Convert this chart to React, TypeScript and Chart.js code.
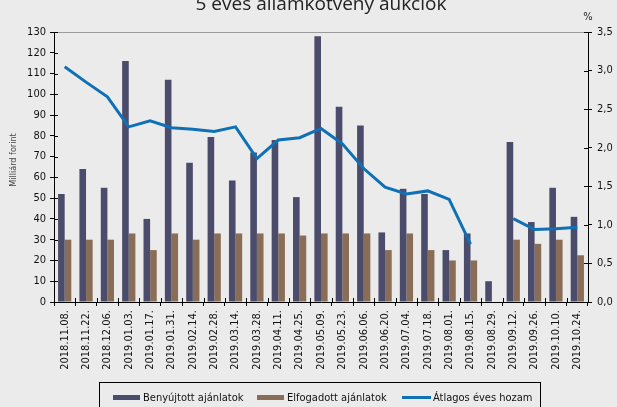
import React, { useEffect, useRef } from "react";
import { Chart, registerables } from "chart.js";

Chart.register(...registerables);

const categories = [
  "2018.11.08.", "2018.11.22.", "2018.12.06.", "2019.01.03.", "2019.01.17.",
  "2019.01.31.", "2019.02.14.", "2019.02.28.", "2019.03.14.", "2019.03.28.",
  "2019.04.11.", "2019.04.25.", "2019.05.09.", "2019.05.23.", "2019.06.06.",
  "2019.06.20.", "2019.07.04.", "2019.07.18.", "2019.08.01.", "2019.08.15.",
  "2019.08.29.", "2019.09.12.", "2019.09.26.", "2019.10.10.", "2019.10.24.",
];

const benyujtott = [52, 64, 55, 116, 40, 107, 67, 79.5, 58.5, 72, 78, 50.5, 128, 94, 85, 33.5, 54.5, 52, 25, 33, 10, 77, 38.5, 55, 41];
const elfogadott = [30, 30, 30, 33, 25, 33, 30, 33, 33, 33, 33, 32, 33, 33, 33, 25, 33, 25, 20, 20, null, 30, 28, 30, 22.5];
const hozam = [3.05, 2.85, 2.66, 2.27, 2.35, 2.26, 2.24, 2.21, 2.27, 1.86, 2.1, 2.13, 2.25, 2.05, 1.73, 1.49, 1.4, 1.44, 1.33, 0.75, null, 1.08, 0.94, 0.95, 0.97];

const titleText = "5 éves államkötvény aukciók";
const leftAxisTitle = "Milliárd forint";
const rightAxisUnit = "%";
const legendLabels = ["Benyújtott ajánlatok", "Elfogadott ajánlatok", "Átlagos éves hozam"];

const FONT = "'DejaVu Sans Condensed', 'Liberation Sans', sans-serif";
const TITLE_FONT = "'Open Sans', 'Noto Sans', sans-serif";
const C_BAR1 = "#4b4b6c";
const C_BAR2 = "#8a6d56";
const C_LINE = "#1070b6";
const BG = "#ebebeb";

const overlay = {
  id: "overlay",
  beforeDraw(chart: any) {
    const ctx = chart.ctx;
    ctx.save();
    ctx.fillStyle = BG;
    ctx.fillRect(0, 0, chart.width, chart.height);
    ctx.restore();
  },
  afterDraw(chart: any) {
    const ctx = chart.ctx;
    const { left, right, top, bottom } = chart.chartArea;
    ctx.save();
    // top border
    ctx.strokeStyle = "#9a9a9a";
    ctx.lineWidth = 1;
    ctx.beginPath();
    ctx.moveTo(left, top + 0.5);
    ctx.lineTo(right, top + 0.5);
    ctx.stroke();

    // inner tick halves
    ctx.strokeStyle = "#000";
    ctx.beginPath();
    const y = chart.scales.y;
    y.ticks.forEach((t: any) => {
      const py = Math.round(y.getPixelForValue(t.value)) + 0.5;
      ctx.moveTo(left, py);
      ctx.lineTo(left + 4, py);
    });
    const y1 = chart.scales.y1;
    y1.ticks.forEach((t: any) => {
      const py = Math.round(y1.getPixelForValue(t.value)) + 0.5;
      ctx.moveTo(right - 4, py);
      ctx.lineTo(right, py);
    });
    const n = categories.length;
    for (let i = 0; i <= n; i++) {
      const px = Math.round(left + (i * (right - left)) / n) + 0.5;
      ctx.moveTo(px, bottom - 4);
      ctx.lineTo(px, bottom);
    }
    ctx.stroke();

    // title
    ctx.fillStyle = "#222";
    ctx.font = `19px ${TITLE_FONT}`;
    ctx.textAlign = "center";
    ctx.textBaseline = "alphabetic";
    ctx.fillText(titleText, (left + right) / 2, 10);

    // % unit
    ctx.font = `11px ${FONT}`;
    ctx.textBaseline = "middle";
    ctx.fillText(rightAxisUnit, right, 17);

    // left axis title
    ctx.save();
    ctx.translate(14, 160);
    ctx.rotate(-Math.PI / 2);
    ctx.font = `9px ${FONT}`;
    ctx.fillStyle = "#444";
    ctx.textAlign = "center";
    ctx.fillText(leftAxisTitle, 0, 0);
    ctx.restore();

    // legend
    ctx.strokeStyle = "#000";
    ctx.lineWidth = 1;
    ctx.strokeRect(99.5, 382.5, 441, 40);
    ctx.font = `11px ${FONT}`;
    ctx.textAlign = "left";
    ctx.textBaseline = "middle";
    ctx.fillStyle = C_BAR1;
    ctx.fillRect(113, 395, 27, 5);
    ctx.fillStyle = "#111";
    ctx.fillText(legendLabels[0], 143, 398);
    ctx.fillStyle = C_BAR2;
    ctx.fillRect(257, 395, 27, 5);
    ctx.fillStyle = "#111";
    ctx.fillText(legendLabels[1], 287, 398);
    ctx.fillStyle = C_LINE;
    ctx.fillRect(402, 396, 29, 3);
    ctx.fillStyle = "#111";
    ctx.fillText(legendLabels[2], 433, 398);
    ctx.restore();
  },
};

export default function App() {
  const ref = useRef<HTMLCanvasElement | null>(null);
  useEffect(() => {
    if (!ref.current) return;
    const chart = new Chart(ref.current, {
      type: "bar",
      data: {
        labels: categories,
        datasets: [
          {
            type: "line",
            label: legendLabels[2],
            data: hozam,
            yAxisID: "y1",
            borderColor: C_LINE,
            backgroundColor: C_LINE,
            borderWidth: 3,
            pointRadius: 0,
            tension: 0,
            spanGaps: false,
            order: 0,
          } as any,
          {
            label: legendLabels[0],
            data: benyujtott,
            yAxisID: "y",
            backgroundColor: C_BAR1,
            categoryPercentage: 0.62,
            barPercentage: 1,
            order: 1,
          },
          {
            label: legendLabels[1],
            data: elfogadott,
            yAxisID: "y",
            backgroundColor: C_BAR2,
            categoryPercentage: 0.62,
            barPercentage: 1,
            order: 2,
          },
        ],
      },
      options: {
        animation: false,
        responsive: true,
        maintainAspectRatio: false,
        layout: { padding: { top: 32, left: 0, right: 0, bottom: 0 } },
        plugins: {
          legend: { display: false },
          title: { display: false },
          tooltip: { enabled: false },
        },
        scales: {
          x: {
            grid: { drawOnChartArea: false, drawTicks: true, tickLength: 4, color: "#000", offset: true },
            border: { color: "#000", width: 1 },
            ticks: {
              autoSkip: false,
              maxRotation: 90,
              minRotation: 90,
              padding: 4,
              color: "#111",
              font: { family: FONT, size: 11 },
            },
            afterFit: (s: any) => {
              s.height = 105;
            },
          },
          y: {
            position: "left",
            min: 0,
            max: 130,
            ticks: { stepSize: 10, padding: 4, color: "#111", font: { family: FONT, size: 11 } },
            grid: { drawOnChartArea: false, drawTicks: true, tickLength: 4, color: "#000" },
            border: { color: "#000", width: 1 },
            afterFit: (s: any) => {
              s.width = 54;
            },
          },
          y1: {
            position: "right",
            min: 0,
            max: 3.5,
            ticks: {
              stepSize: 0.5,
              padding: 5,
              color: "#111",
              font: { family: FONT, size: 11 },
              callback: (v: any) => Number(v).toFixed(1).replace(".", ","),
            },
            grid: { drawOnChartArea: false, drawTicks: true, tickLength: 4, color: "#000" },
            border: { color: "#000", width: 1 },
            afterFit: (s: any) => {
              s.width = 29;
            },
          },
        },
      },
      plugins: [overlay],
    });
    return () => chart.destroy();
  }, []);
  return (
    <div style={{ position: "fixed", left: 0, top: 0, width: 617, height: 407, background: BG }}>
      <canvas ref={ref} />
    </div>
  );
}
